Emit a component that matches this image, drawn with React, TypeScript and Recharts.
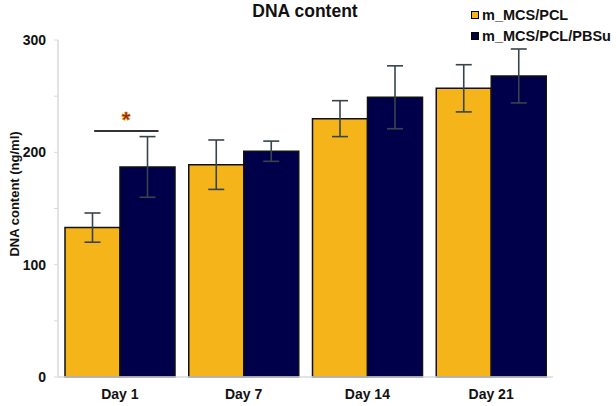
import { Bar, BarChart, ErrorBar, LabelList, XAxis, YAxis } from 'recharts';

const days = ['Day 1', 'Day 7', 'Day 14', 'Day 21'];
const pclMean = [133, 189, 230, 257];
const pclErr = [13, 22, 16, 21];
const pbsuMean = [187, 201, 249, 268];
const pbsuErr = [27, 9, 28, 24];
const seriesNames = ['m_MCS/PCL', 'm_MCS/PCL/PBSu'];
const seriesColors = ['#f4b41a', '#00004a'];
const yTicks = [0, 50, 100, 150, 200, 250, 300];
// significance bracket (Day 1 only)
const sigLevel = [219, null, null, null];

const data = days.map((day, i) => ({
  day,
  pcl: pclMean[i],
  pclErr: pclErr[i],
  pbsu: pbsuMean[i],
  pbsuErr: pbsuErr[i],
  sig: sigLevel[i],
}));

const font = '"Liberation Sans", Arial, sans-serif';

function SigMark(props: any) {
  const { x, y, width, height, value, index } = props;
  if (value == null) return null;
  const row = data[index];
  const perUnit = height / row.pcl;
  const base = y + height;
  const ly = base - value * perUnit;
  return (
    <g>
      <line x1={x + width * 0.53} x2={x + width * 1.7} y1={ly} y2={ly} stroke="#333" strokeWidth={2} />
      <text
        x={x + width * 1.11}
        y={ly - 4}
        textAnchor="middle"
        fontFamily={font}
        fontWeight="bold"
        fontSize={22}
        fill="#8b2000"
        stroke="#e08a00"
        strokeWidth={0.6}
      >
        *
      </text>
    </g>
  );
}

function YLabel() {
  return (
    <text
      x={14}
      y={194}
      transform="rotate(-90, 14, 194)"
      textAnchor="middle"
      dominantBaseline="central"
      fontFamily={font}
      fontWeight="bold"
      fontSize={13}
      fill="#111"
    >
      DNA content (ng/ml)
    </text>
  );
}

export default function App() {
  return (
    <div style={{ position: 'absolute', left: 0, top: 0, width: 616, height: 406, background: '#fff' }}>
      <div
        style={{
          position: 'absolute',
          left: 0,
          width: 616,
          top: 1,
          textAlign: 'center',
          fontFamily: font,
          fontWeight: 'bold',
          fontSize: 17.5,
          color: '#111',
        }}
      >
        <span style={{ position: 'relative', left: -3 }}>DNA content</span>
      </div>
      <div style={{ position: 'absolute', left: 471, top: 4, fontFamily: font, fontWeight: 'bold', fontSize: 14.5, color: '#111' }}>
        {seriesNames.map((name, i) => (
          <div key={name} style={{ display: 'flex', alignItems: 'center', height: 21 }}>
            <span
              style={{
                width: 6,
                height: 6,
                background: seriesColors[i],
                border: '1px solid #000',
                marginRight: 3,
              }}
            />
            {name}
          </div>
        ))}
      </div>
      <BarChart
        width={616}
        height={406}
        data={data}
        margin={{ top: 40, right: 63, bottom: 0, left: 0 }}
        barCategoryGap={7}
        barGap={0}
      >
        <XAxis
          dataKey="day"
          height={29}
          tickLine={false}
          axisLine={{ stroke: '#d6dbde', strokeWidth: 1.5 }}
          tick={{ fontFamily: font, fontWeight: 'bold', fontSize: 14, fill: '#111' }}
          tickMargin={6}
        />
        <YAxis
          width={58}
          domain={[0, 300]}
          ticks={yTicks}
          interval={0}
          tickFormatter={(v: number) => (v % 100 === 0 ? String(v) : '')}
          axisLine={{ stroke: '#d6dbde', strokeWidth: 1.5 }}
          tickLine={{ stroke: '#d6dbde' }}
          tickSize={4}
          tickMargin={8}
          tick={{ fontFamily: font, fontWeight: 'bold', fontSize: 14, fill: '#111' }}
          label={{ content: YLabel }}
        />
        <Bar dataKey="pcl" fill={seriesColors[0]} stroke="#111" strokeWidth={1.5} isAnimationActive={false}>
          <ErrorBar dataKey="pclErr" width={8} stroke="#37454a" strokeWidth={1.6} />
          <LabelList dataKey="sig" content={SigMark} />
        </Bar>
        <Bar dataKey="pbsu" fill={seriesColors[1]} stroke="#111" strokeWidth={1.5} isAnimationActive={false}>
          <ErrorBar dataKey="pbsuErr" width={8} stroke="#37454a" strokeWidth={1.6} />
        </Bar>
      </BarChart>
    </div>
  );
}
